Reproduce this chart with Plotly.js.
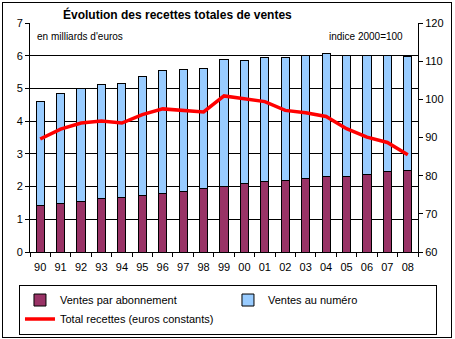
<!DOCTYPE html>
<html>
<head>
<meta charset="utf-8">
<script src="https://cdn.plot.ly/plotly-3.0.1.min.js"></script>
<style>
  html, body { margin: 0; padding: 0; background: #fff; }
  #wrap { position: relative; width: 455px; height: 339px; }
  #chart { width: 455px; height: 339px; }
  #frame { position: absolute; left: 2px; top: 2px; width: 448px; height: 334px; border: 1px solid #000; pointer-events: none; }
</style>
</head>
<body>
<div id="wrap"><div id="chart"></div><div id="frame"></div></div>
<script>
const years = ['90','91','92','93','94','95','96','97','98','99','00','01','02','03','04','05','06','07','08'];
const abonnement = [1.41,1.47,1.55,1.64,1.67,1.74,1.80,1.86,1.95,2.01,2.10,2.16,2.19,2.26,2.30,2.32,2.38,2.46,2.50];
const auNumero   = [3.20,3.36,3.46,3.49,3.49,3.61,3.76,3.73,3.67,3.86,3.76,3.80,3.77,3.76,3.78,3.68,3.62,3.56,3.48];
const totalIndice = [89.6,92.2,93.8,94.3,93.8,96.0,97.5,97.2,96.7,100.9,100.1,99.4,97.1,96.5,95.5,92.3,90.1,88.7,85.5];
const leftTicks = [0,1,2,3,4,5,6,7];
const gridTicks = [1,2,3,4,5,6];
const rightTicks = [60,70,80,90,100,110,120];

const font = 'Liberation Sans, Arial, sans-serif';

const traces = [
  { type: 'bar', x: years, y: abonnement, name: 'Ventes par abonnement',
    marker: { color: '#993366', line: { color: '#000', width: 1 } }, yaxis: 'y' },
  { type: 'bar', x: years, y: auNumero, name: 'Ventes au numéro',
    marker: { color: '#99CCFF', line: { color: '#000', width: 1 } }, yaxis: 'y' },
  { type: 'scatter', mode: 'lines', x: years, y: totalIndice, name: 'Total recettes (euros constants)',
    line: { color: '#FF0000', width: 3.5 }, yaxis: 'y2' },
  { type: 'scatter', mode: 'lines', x: years, y: abonnement.map(() => null), showlegend: false,
    hoverinfo: 'skip', yaxis: 'y3' }
];

const layout = {
  width: 455, height: 339,
  margin: { l: 30, r: 37, t: 23, b: 87, autoexpand: false },
  paper_bgcolor: '#fff', plot_bgcolor: '#fff',
  font: { family: font, size: 11, color: '#000' },
  barmode: 'stack', bargap: 0.6,
  showlegend: true,
  xaxis: { type: 'category', showline: true, linecolor: '#000', linewidth: 1,
    ticks: 'outside', tickson: 'boundaries', ticklen: 4, tickcolor: '#000', tickangle: 0,
    ticklabelstandoff: 5,
    showgrid: false, zeroline: false, tickfont: { size: 11 }, automargin: false },
  yaxis: { range: [0, 7], tickvals: leftTicks, showgrid: false, zeroline: false,
    showline: true, linecolor: '#000', linewidth: 1, ticks: 'outside', ticklen: 4,
    tickcolor: '#000', tickfont: { size: 11 }, automargin: false },
  yaxis2: { overlaying: 'y', side: 'right', range: [60, 120], tickvals: rightTicks,
    showgrid: false, zeroline: false, showline: true, linecolor: '#000', linewidth: 1,
    ticks: 'outside', ticklen: 4, tickcolor: '#000', tickfont: { size: 11 }, automargin: false },
  yaxis3: { overlaying: 'y', range: [0, 7], tickvals: gridTicks, showgrid: true,
    gridcolor: '#000', gridwidth: 1, showticklabels: false, ticks: '', zeroline: false,
    showline: false },
  legend: { orientation: 'h', x: -0.0284, y: -0.142,
    xanchor: 'left', yanchor: 'top',
    bordercolor: '#000', borderwidth: 1, bgcolor: '#fff', traceorder: 'normal',
    entrywidth: 163, font: { size: 11 }, tracegroupgap: 0 },
  annotations: [
    { text: '<b>Évolution des recettes totales de ventes</b>', xref: 'paper', yref: 'paper',
      x: 0.381, y: 1.036, xanchor: 'center', yanchor: 'middle', showarrow: false,
      font: { size: 12 } },
    { text: "en milliards d'euros", xref: 'paper', yref: 'paper', x: 0.012, y: 0.939,
      xanchor: 'left', yanchor: 'middle', showarrow: false, font: { size: 10 } },
    { text: 'indice 2000=100', xref: 'paper', yref: 'paper', x: 0.967, y: 0.939,
      xanchor: 'right', yanchor: 'middle', showarrow: false, font: { size: 10 } }
  ]
};

Plotly.newPlot('chart', traces, layout, { staticPlot: true, displayModeBar: false });
</script>
</body>
</html>
